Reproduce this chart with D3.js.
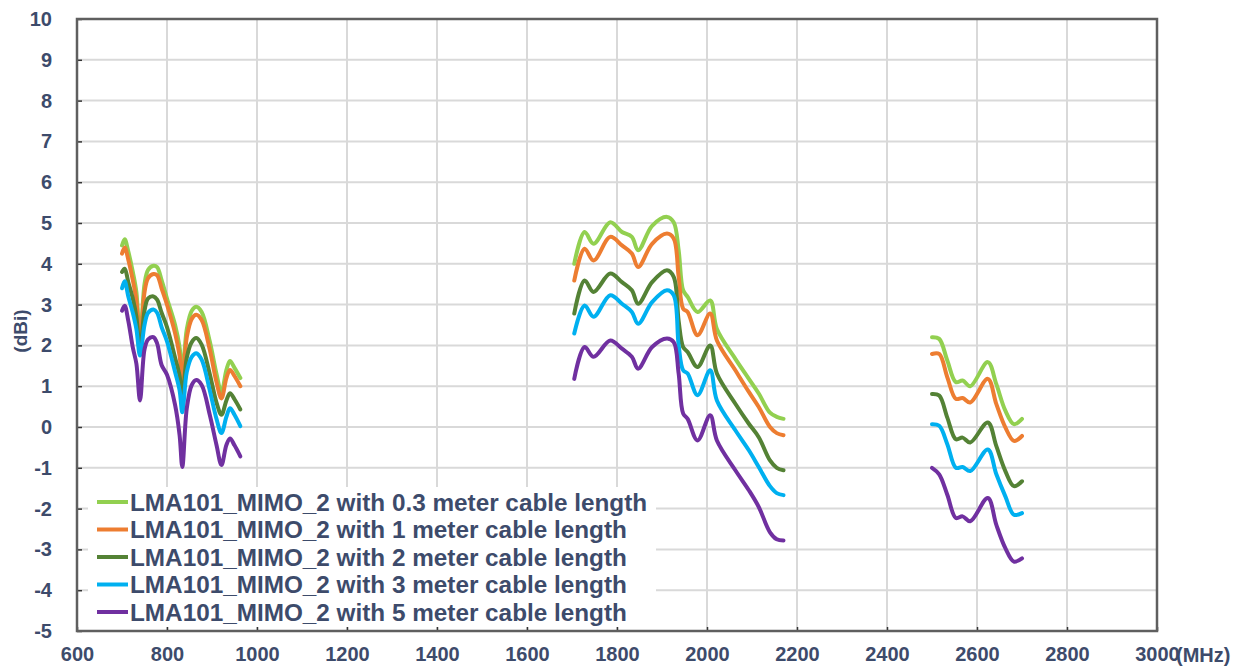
<!DOCTYPE html>
<html>
<head>
<meta charset="utf-8">
<script src="https://cdn.jsdelivr.net/npm/d3@7"></script>
<style>
  html, body { margin: 0; padding: 0; background: #ffffff; }
  svg { display: block; }
  text { font-family: "Liberation Sans", Arial, sans-serif; }
</style>
</head>
<body>
<svg id="chart" width="1253" height="668"></svg>
<script>
// ---------- data ----------
const xTicks = [600, 800, 1000, 1200, 1400, 1600, 1800, 2000, 2200, 2400, 2600, 2800, 3000];
const yTicks = [-5, -4, -3, -2, -1, 0, 1, 2, 3, 4, 5, 6, 7, 8, 9, 10];

const seriesNames = [
  "LMA101_MIMO_2 with 0.3 meter cable length",
  "LMA101_MIMO_2 with 1 meter cable length",
  "LMA101_MIMO_2 with 2 meter cable length",
  "LMA101_MIMO_2 with 3 meter cable length",
  "LMA101_MIMO_2 with 5 meter cable length"
];

// frequencies (MHz) of the three measured bands
const band1Freq = [700, 706, 714, 724, 732, 740, 750, 758, 770, 778, 788, 800, 818, 828, 834, 844, 855, 865, 877, 895, 910, 921, 932, 940, 950, 963];
const band2Freq = [1705, 1728, 1748, 1785, 1811, 1833, 1847, 1878, 1911, 1926, 1937, 1947, 1957, 1979, 2007, 2022, 2063, 2093, 2115, 2140, 2155, 2170];
const band3Freq = [2500, 2516, 2534, 2553, 2568, 2585, 2624, 2643, 2663, 2682, 2700];

// gain (dBi) per series, one array per band
const gain03m = [
  [4.45, 4.6, 4.3, 3.8, 3.3, 2.1, 3.5, 3.85, 3.95, 3.92, 3.6, 3.15, 2.5, 1.95, 1.3, 2.4, 2.85, 2.95, 2.82, 2.1, 1.3, 0.85, 1.4, 1.62, 1.45, 1.2],
  [4.0, 4.78, 4.49, 5.02, 4.78, 4.66, 4.33, 4.93, 5.15, 5.02, 4.33, 3.35, 3.19, 2.82, 3.1, 2.4, 1.67, 1.18, 0.82, 0.35, 0.25, 0.2],
  [2.2, 2.16, 1.63, 1.1, 1.14, 1.0, 1.59, 1.05, 0.4, 0.07, 0.2]
];
const gain1m = [
  [4.25, 4.4, 4.1, 3.6, 3.1, 2.0, 3.3, 3.65, 3.75, 3.72, 3.4, 3.0, 2.3, 1.75, 1.1, 2.2, 2.65, 2.75, 2.62, 1.9, 1.1, 0.7, 1.2, 1.4, 1.25, 1.0],
  [3.59, 4.37, 4.08, 4.66, 4.45, 4.25, 3.92, 4.49, 4.74, 4.62, 3.68, 2.9, 2.82, 2.25, 2.78, 2.12, 1.39, 0.86, 0.49, 0.0, -0.15, -0.2],
  [1.79, 1.79, 1.22, 0.69, 0.71, 0.6, 1.18, 0.56, -0.01, -0.34, -0.22]
];
const gain2m = [
  [3.8, 3.88, 3.55, 3.15, 2.7, 1.85, 2.85, 3.15, 3.2, 3.12, 2.8, 2.45, 1.7, 1.25, 0.7, 1.7, 2.08, 2.18, 2.02, 1.3, 0.6, 0.3, 0.65, 0.83, 0.68, 0.43],
  [2.78, 3.59, 3.31, 3.76, 3.55, 3.35, 3.02, 3.55, 3.84, 3.68, 2.6, 1.96, 1.84, 1.47, 2.0, 1.31, 0.57, 0.08, -0.25, -0.82, -1.0, -1.06],
  [0.81, 0.77, 0.23, -0.3, -0.26, -0.38, 0.11, -0.47, -1.08, -1.45, -1.33]
];
const gain3m = [
  [3.4, 3.57, 3.2, 2.8, 2.4, 1.75, 2.5, 2.8, 2.88, 2.8, 2.45, 2.1, 1.35, 0.9, 0.36, 1.35, 1.72, 1.81, 1.65, 0.9, 0.2, -0.15, 0.25, 0.46, 0.3, 0.02],
  [2.29, 2.98, 2.7, 3.23, 3.02, 2.82, 2.53, 3.06, 3.35, 3.23, 2.0, 1.39, 1.31, 0.78, 1.39, 0.65, -0.08, -0.57, -0.98, -1.45, -1.62, -1.67],
  [0.07, 0.03, -0.42, -1.0, -0.98, -1.08, -0.55, -1.16, -1.7, -2.15, -2.11]
];
const gain5m = [
  [2.85, 2.97, 2.6, 1.95, 1.55, 0.65, 1.9, 2.15, 2.2, 2.05, 1.52, 1.28, 0.54, -0.2, -0.98, 0.46, 1.03, 1.15, 1.03, 0.3, -0.44, -0.93, -0.44, -0.28, -0.45, -0.72],
  [1.18, 1.96, 1.72, 2.12, 1.92, 1.72, 1.43, 1.96, 2.17, 2.08, 1.31, 0.33, 0.2, -0.33, 0.29, -0.33, -1.06, -1.55, -1.96, -2.58, -2.75, -2.78],
  [-1.0, -1.16, -1.66, -2.23, -2.19, -2.31, -1.74, -2.4, -2.97, -3.3, -3.22]
];

// ---------- styles ----------
const seriesColors = ["#92D050", "#ED7D31", "#548235", "#00B0F0", "#7030A0"];
const textColor = "#3d4b6b";
const gridColor = "#d9d9d9";
const axisColor = "#5f5f5f";

// ---------- chart ----------
const svg = d3.select("#chart");
const W = 1253, H = 668;
const m = { left: 77, right: 1157, top: 19, bottom: 631 };

svg.append("rect").attr("width", W).attr("height", H).attr("fill", "#fff");

const x = d3.scaleLinear().domain([600, 3000]).range([m.left, m.right]);
const y = d3.scaleLinear().domain([-5, 10]).range([m.bottom, m.top]);
const plainFormat = d => String(d);   // hyphen-minus like the original

// gridlines
const grid = svg.append("g");
grid.selectAll("line.h").data(yTicks.filter(v => v > -5 && v < 10)).join("line")
  .attr("x1", m.left).attr("x2", m.right)
  .attr("y1", d => y(d)).attr("y2", d => y(d))
  .attr("stroke", gridColor).attr("stroke-width", 2);
grid.selectAll("line.v").data(xTicks.filter(v => v > 600 && v < 3000)).join("line")
  .attr("y1", m.top).attr("y2", m.bottom)
  .attr("x1", d => x(d)).attr("x2", d => x(d))
  .attr("stroke", gridColor).attr("stroke-width", 2);

// legend background (covers grid)
const legendRowY = i => 502 + i * 27.5;
svg.append("rect")
  .attr("x", 88).attr("y", 487).attr("width", 568).attr("height", 140)
  .attr("fill", "#fff");

// axes
const yAxis = d3.axisLeft(y).tickValues(yTicks).tickSizeInner(-5).tickSizeOuter(0).tickPadding(25)
  .tickFormat(plainFormat);
const gy = svg.append("g").attr("transform", `translate(${m.left},0)`).call(yAxis);
gy.select(".domain").remove();
gy.selectAll(".tick line").attr("stroke", "#333").attr("stroke-width", 1.5);
gy.selectAll(".tick text")
  .attr("fill", textColor).attr("font-size", 20).attr("font-weight", "bold")
  .attr("font-family", "Liberation Sans, Arial, sans-serif");

const xAxis = d3.axisBottom(x).tickValues(xTicks).tickSizeInner(-4).tickSizeOuter(0).tickPadding(16)
  .tickFormat(plainFormat);
const gx = svg.append("g").attr("transform", `translate(0,${m.bottom})`).call(xAxis);
gx.select(".domain").remove();
gx.selectAll(".tick line").attr("stroke", "#333").attr("stroke-width", 1.5);
gx.selectAll(".tick text")
  .attr("fill", textColor).attr("font-size", 20).attr("font-weight", "bold")
  .attr("font-family", "Liberation Sans, Arial, sans-serif");

// frame
svg.append("rect")
  .attr("x", m.left).attr("y", m.top)
  .attr("width", m.right - m.left).attr("height", m.bottom - m.top)
  .attr("fill", "none").attr("stroke", axisColor).attr("stroke-width", 2.5);

// axis titles
svg.append("text")
  .attr("x", 1176).attr("y", 662)
  .attr("fill", textColor).attr("font-size", 20).attr("font-weight", "bold")
  .text("(MHz)");
svg.append("text")
  .attr("transform", "translate(27,331) rotate(-90)")
  .attr("text-anchor", "middle")
  .attr("fill", textColor).attr("font-size", 19).attr("font-weight", "bold")
  .text("(dBi)");

// lines
const bands = [band1Freq, band2Freq, band3Freq];
const allGains = [gain03m, gain1m, gain2m, gain3m, gain5m];
const line = d3.line()
  .x(d => x(d[0])).y(d => y(d[1]))
  .curve(d3.curveCatmullRom.alpha(0.5));

const linesG = svg.append("g");
allGains.forEach((g, si) => {
  bands.forEach((freqs, bi) => {
    const pts = freqs.map((f, k) => [f, g[bi][k]]);
    linesG.append("path")
      .attr("d", line(pts))
      .attr("fill", "none")
      .attr("stroke", seriesColors[si])
      .attr("stroke-width", 4)
      .attr("stroke-linejoin", "round")
      .attr("stroke-linecap", "round");
  });
});

// legend
const lg = svg.append("g");
seriesNames.forEach((name, i) => {
  const cy = legendRowY(i);
  lg.append("line")
    .attr("x1", 97).attr("x2", 128).attr("y1", cy).attr("y2", cy)
    .attr("stroke", seriesColors[i]).attr("stroke-width", 4);
  lg.append("text")
    .attr("x", 130).attr("y", cy + 8.5)
    .attr("fill", textColor).attr("font-size", 24.3).attr("font-weight", "bold")
    .text(name);
});
</script>
</body>
</html>
